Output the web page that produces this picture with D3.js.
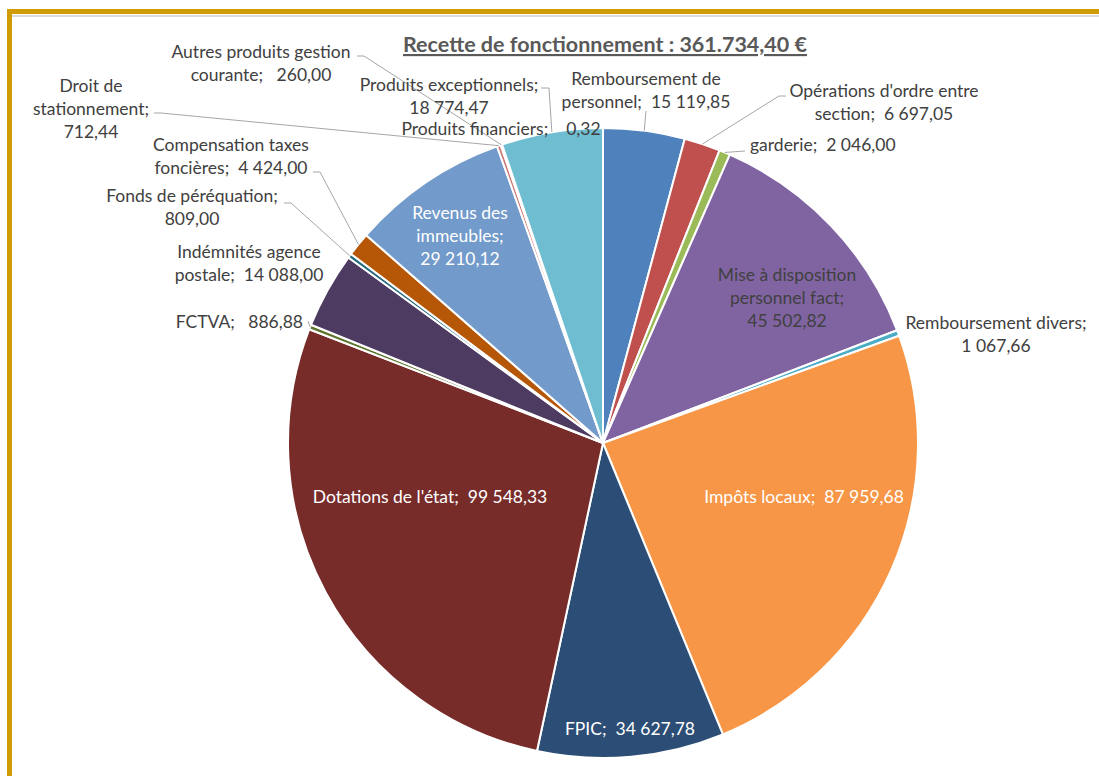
<!DOCTYPE html>
<html><head><meta charset="utf-8">
<script src="https://cdn.jsdelivr.net/npm/d3@7"></script>
<style>
html,body{margin:0;padding:0;background:#fff;}
svg{display:block;}
text{white-space:pre;font-family:Lato,"Liberation Sans",sans-serif;}
</style></head>
<body>
<script>
const title = "Recette de fonctionnement : 361.734,40 €";
const categories = ["Remboursement de personnel", "Opérations d'ordre entre section", "garderie",
  "Mise à disposition personnel fact", "Remboursement divers", "Impôts locaux", "FPIC",
  "Dotations de l'état", "FCTVA", "Indémnités agence postale", "Fonds de péréquation",
  "Compensation taxes foncières", "Revenus des immeubles", "Droit de stationnement",
  "Autres produits gestion courante", "Produits financiers", "Produits exceptionnels"];
const values = [15119.85, 6697.05, 2046.00, 45502.82, 1067.66, 87959.68, 34627.78,
  99548.33, 886.88, 14088.00, 809.00, 4424.00, 29210.12, 712.44, 260.00, 0.32, 18774.47];
const colors = ["#4F81BD", "#C0504D", "#9BBB59", "#8064A2", "#4BACC6", "#F79646", "#2C4D75",
  "#772C2A", "#5F7530", "#4D3B62", "#276A7C", "#B65708", "#729ACA", "#CD7371", "#AFC97A",
  "#A18FB9", "#6FBDD1"];
// label line breaks ({v} = formatted value)
const labelLines = [
  ["Remboursement de", "personnel;  {v}"],
  ["Opérations d'ordre entre", "section;  {v}"],
  ["garderie;  {v}"],
  ["Mise à disposition", "personnel fact;", "{v}"],
  ["Remboursement divers;", "{v}"],
  ["Impôts locaux;  {v}"],
  ["FPIC;  {v}"],
  ["Dotations de l'état;  {v}"],
  ["FCTVA;   {v}"],
  ["Indémnités agence", "postale;  {v}"],
  ["Fonds de péréquation;", "{v}"],
  ["Compensation taxes", "foncières;  {v}"],
  ["Revenus des", "immeubles;", "{v}"],
  ["Droit de", "stationnement;", "{v}"],
  ["Autres produits gestion", "courante;   {v}"],
  ["Produits financiers;    {v}"],
  ["Produits exceptionnels;", "{v}"]
];
// layout: label position (x, first baseline), anchor, fill, leader points (last point = slice edge)
const labelLayout = [
  {x:646, y:85, a:"middle", c:"#404040", leader:[[646,111]]},
  {x:884, y:97, a:"middle", c:"#404040", leader:[[786,96],[779,96]]},
  {x:750, y:151, a:"start", c:"#404040", leader:[[745,151]]},
  {x:787, y:281, a:"middle", c:"#404040"},
  {x:996, y:329, a:"middle", c:"#404040"},
  {x:804, y:503, a:"middle", c:"#FFFFFF"},
  {x:630, y:735, a:"middle", c:"#FFFFFF"},
  {x:430, y:503, a:"middle", c:"#FFFFFF"},
  {x:303, y:328, a:"end", c:"#404040", leader:[[308,321]]},
  {x:249, y:258, a:"middle", c:"#404040"},
  {x:192, y:202, a:"middle", c:"#404040", leader:[[284,203],[291,203]]},
  {x:231, y:151, a:"middle", c:"#404040", leader:[[313,172],[320,172]]},
  {x:460, y:219, a:"middle", c:"#FFFFFF"},
  {x:91, y:92, a:"middle", c:"#404040", leader:[[154,113],[161,113]]},
  {x:261, y:58, a:"middle", c:"#404040", leader:[[357,56],[364,56]]},
  {x:501, y:135, a:"middle", c:"#404040"},
  {x:449, y:91, a:"middle", c:"#404040", leader:[[541,88],[549,88]]}
];

const W = 1099, H = 776, cx = 603, cy = 443, R = 315;
const fr = d3.formatLocale({decimal: ",", thousands: " ", grouping: [3], currency: ["", " €"]});
const fmt = fr.format(",.2f");

const svg = d3.select("body").append("svg").attr("width", W).attr("height", H);

// frame
svg.append("rect").attr("x", 7).attr("y", 9).attr("width", W - 7).attr("height", 5).attr("fill", "#CF9C05");
svg.append("rect").attr("x", 7).attr("y", 9).attr("width", 5).attr("height", H - 9).attr("fill", "#CF9C05");
svg.append("rect").attr("x", 12).attr("y", 15).attr("width", W - 12).attr("height", 2).attr("fill", "#DCDCDC");

// title
svg.append("text").attr("x", 605).attr("y", 52).attr("text-anchor", "middle")
  .attr("font-size", 21.5).attr("font-weight", "bold").attr("fill", "#595959")
  .attr("text-decoration", "underline").text(title);

const pie = d3.pie().sort(null).value(d => d)(values);
const arc = d3.arc().innerRadius(0).outerRadius(R);
const g = svg.append("g").attr("transform", `translate(${cx},${cy})`);
g.selectAll("path").data(pie).join("path")
  .attr("d", arc).attr("fill", (d, i) => colors[i])
  .attr("stroke", "#fff").attr("stroke-width", 2).attr("stroke-linejoin", "round");

// leaders
const line = d3.line();
pie.forEach((d, i) => {
  const L = labelLayout[i];
  if (!L.leader) return;
  const m = (d.startAngle + d.endAngle) / 2;
  const end = [cx + R * Math.sin(m), cy - R * Math.cos(m)];
  svg.append("path").attr("d", line(L.leader.concat([end])))
    .attr("fill", "none").attr("stroke", "#A6A6A6").attr("stroke-width", 1);
});

// labels
const fs = 17.5, lh = 23;
pie.forEach((d, i) => {
  const L = labelLayout[i];
  const t = svg.append("text").attr("xml:space", "preserve").attr("x", L.x).attr("y", L.y)
    .attr("text-anchor", L.a).attr("font-size", fs).attr("fill", L.c);
  labelLines[i].forEach((s, k) => {
    t.append("tspan").attr("xml:space", "preserve").attr("x", L.x).attr("y", L.y + k * lh)
      .text(s.replace("{v}", fmt(values[i])));
  });
});
</script>
</body></html>
